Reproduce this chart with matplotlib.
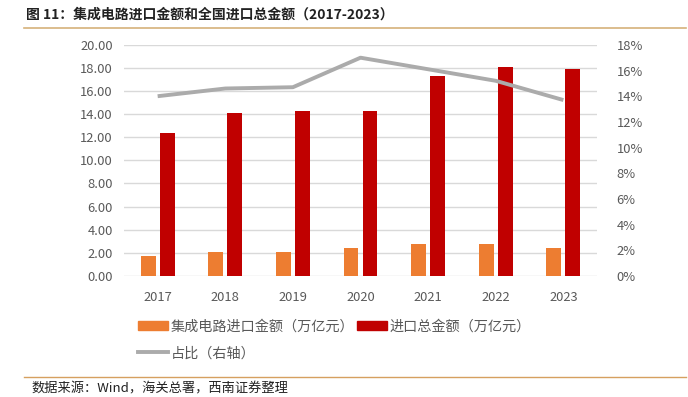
import numpy as np
import matplotlib.pyplot as plt
from matplotlib.lines import Line2D
from matplotlib.patches import Patch

plt.rcParams['font.family'] = ['Noto Sans CJK SC', 'DejaVu Sans']

years = ['2017', '2018', '2019', '2020', '2021', '2022', '2023']
ic_import = [1.76, 2.08, 2.09, 2.40, 2.79, 2.72, 2.45]       # 集成电路进口金额（万亿元）
total_import = [12.41, 14.09, 14.31, 14.28, 17.34, 18.07, 17.92]  # 进口总金额（万亿元）
share = [0.140, 0.146, 0.147, 0.170, 0.161, 0.152, 0.137]   # 占比

c_orange = '#ED7D31'
c_red = '#C00000'
c_gray = '#ABABAB'
c_tick = '#595959'

fig = plt.figure(figsize=(6.88, 3.97), dpi=100)
ax = fig.add_axes([0.180, 0.305, 0.688, 0.582])
x = np.arange(len(years))
w = 0.22
ax.bar(x - 0.14, ic_import, w, color=c_orange, zorder=3)
ax.bar(x + 0.14, total_import, w, color=c_red, zorder=3)
ax.set_ylim(0, 20)
ax.set_yticks(np.arange(0, 20.1, 2))
ax.set_yticklabels([f'{v:.2f}' for v in np.arange(0, 20.1, 2)])
ax.set_xlim(-0.5, len(years) - 0.5)
ax.set_xticks(x)
ax.set_xticklabels(years)
ax.grid(axis='y', color='#D9D9D9', lw=1, zorder=0)
for s in ax.spines.values():
    s.set_visible(False)
ax.tick_params(length=0, labelsize=9.3, colors=c_tick, pad=8)
ax.tick_params(axis='x', pad=11)

ax2 = ax.twinx()
ax2.plot(x, share, color=c_gray, lw=2.8, zorder=4, solid_capstyle='butt')
ax2.set_ylim(0, 0.18)
ax2.set_yticks(np.arange(0, 0.181, 0.02))
ax2.set_yticklabels([f'{int(round(v * 100))}%' for v in np.arange(0, 0.181, 0.02)])
for s in ax2.spines.values():
    s.set_visible(False)
ax2.tick_params(length=0, labelsize=9.3, colors=c_tick, pad=14)

# title and rules
fig.text(0.038, 0.962, '图 11：集成电路进口金额和全国进口总金额（2017-2023）',
         fontsize=10, fontweight='bold', va='center', ha='left', color='#222222')
fig.add_artist(Line2D([0.035, 0.997], [0.929, 0.929], color='#D6B27A', lw=1.2))
fig.add_artist(Line2D([0.035, 0.997], [0.050, 0.050], color='#D6A060', lw=1.0))
fig.text(0.046, 0.020, '数据来源：Wind，海关总署，西南证券整理', fontsize=9.5,
         style='italic', va='center', ha='left', color='#222222')

handles = [Patch(color=c_orange), Patch(color=c_red)]
fig.legend(handles, ['集成电路进口金额（万亿元）', '进口总金额（万亿元）'],
           loc='center left', bbox_to_anchor=(0.182, 0.178), ncol=2, frameon=False,
           fontsize=10.2, handlelength=2.1, handleheight=0.65, columnspacing=0.2,
           handletextpad=0.2, labelcolor=c_tick)
fig.legend([Line2D([], [], color=c_gray, lw=2.8)], ['占比（右轴）'],
           loc='center left', bbox_to_anchor=(0.182, 0.110), frameon=False,
           fontsize=10.2, handlelength=2.1, handletextpad=0.2, labelcolor=c_tick)

fig.savefig('out.png', dpi=100)
